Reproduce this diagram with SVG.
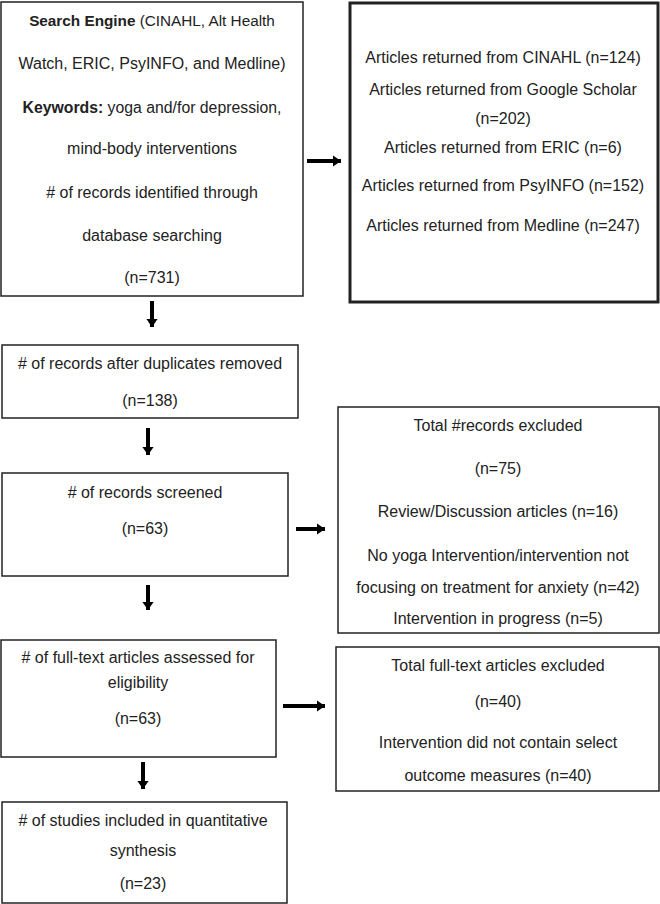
<svg xmlns="http://www.w3.org/2000/svg" width="660" height="904" viewBox="0 0 660 904">
<style>
.box{fill:#fff;stroke:#222;stroke-width:1.5}
.thick{stroke-width:3}
text{font-family:"Liberation Sans",Arial,sans-serif;font-size:16px;fill:#222;text-anchor:middle}
.b{font-weight:bold}
.conn line{stroke:#000;stroke-width:4}
</style>
<defs>
<marker id="ah" markerWidth="4" markerHeight="4" refX="2" refY="2" orient="auto" markerUnits="strokeWidth">
<path d="M0,0.6 L2,2 L0,3.4 Z" fill="#000"/>
</marker>
</defs>
<rect width="660" height="904" fill="#fff"/>
<g id="n1">
<rect class="box" x="1" y="2" width="302" height="294"/>
<text x="152" y="26" style="font-size:15.3px"><tspan class="b">Search Engine</tspan> (CINAHL, Alt Health</text>
<text x="152" y="69">Watch, ERIC, PsyINFO, and Medline)</text>
<text x="152" y="113" style="font-size:15.8px"><tspan class="b">Keywords:</tspan> yoga and/for depression,</text>
<text x="152" y="154">mind-body interventions</text>
<text x="152" y="198"># of records identified through</text>
<text x="152" y="241">database searching</text>
<text x="152" y="283">(n=731)</text>
</g>
<g id="n2">
<rect class="box thick" x="350" y="3" width="308" height="299"/>
<text x="503" y="63">Articles returned from CINAHL (n=124)</text>
<text x="503" y="95">Articles returned from Google Scholar</text>
<text x="503" y="124">(n=202)</text>
<text x="503" y="153">Articles returned from ERIC (n=6)</text>
<text x="503" y="191">Articles returned from PsyINFO (n=152)</text>
<text x="503" y="231">Articles returned from Medline (n=247)</text>
</g>
<g id="n3">
<rect class="box" x="2" y="345" width="296" height="73"/>
<text x="150" y="369"># of records after duplicates removed</text>
<text x="150" y="406">(n=138)</text>
</g>
<g id="n4">
<rect class="box" x="2" y="473" width="286" height="103"/>
<text x="145" y="498"># of records screened</text>
<text x="145" y="534">(n=63)</text>
</g>
<g id="n5">
<rect class="box" x="338" y="407" width="321" height="226"/>
<text x="498" y="431">Total #records excluded</text>
<text x="498" y="474">(n=75)</text>
<text x="498" y="517">Review/Discussion articles (n=16)</text>
<text x="498" y="561">No yoga Intervention/intervention not</text>
<text x="498" y="593">focusing on treatment for anxiety (n=42)</text>
<text x="498" y="624">Intervention in progress (n=5)</text>
</g>
<g id="n6">
<rect class="box" x="1" y="640" width="275" height="117"/>
<text x="138" y="663"># of full-text articles assessed for</text>
<text x="138" y="688">eligibility</text>
<text x="138" y="724">(n=63)</text>
</g>
<g id="n7">
<rect class="box" x="336" y="647" width="323" height="144"/>
<text x="498" y="671">Total full-text articles excluded</text>
<text x="498" y="707">(n=40)</text>
<text x="498" y="748">Intervention did not contain select</text>
<text x="498" y="781">outcome measures (n=40)</text>
</g>
<g id="n8">
<rect class="box" x="2" y="802" width="285" height="101"/>
<text x="143" y="826"># of studies included in quantitative</text>
<text x="143" y="856">synthesis</text>
<text x="143" y="889">(n=23)</text>
</g>
<g id="connectors" class="conn">
<line x1="307" y1="161" x2="341" y2="161" marker-end="url(#ah)"/>
<line x1="152" y1="301" x2="152" y2="327" marker-end="url(#ah)"/>
<line x1="148" y1="428" x2="148" y2="455" marker-end="url(#ah)"/>
<line x1="296" y1="529" x2="325" y2="529" marker-end="url(#ah)"/>
<line x1="148" y1="585" x2="148" y2="610" marker-end="url(#ah)"/>
<line x1="283" y1="706" x2="325" y2="706" marker-end="url(#ah)"/>
<line x1="143" y1="762" x2="143" y2="789" marker-end="url(#ah)"/>
</g>
</svg>
